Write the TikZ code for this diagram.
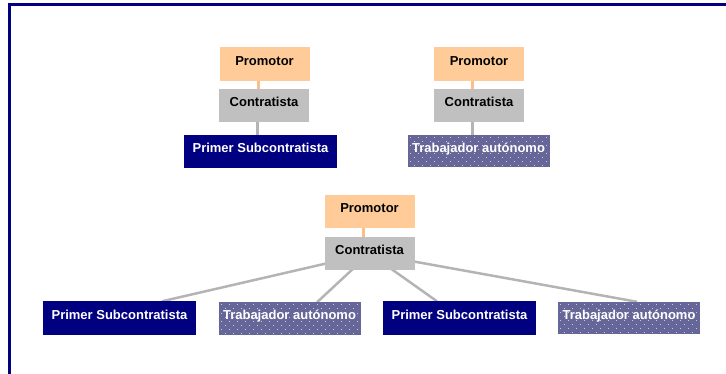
\documentclass[tikz,border=0pt]{standalone}
\usepackage{fontspec}
\setmainfont{Liberation Sans}
\usetikzlibrary{calc,backgrounds}
\definecolor{framec}{HTML}{000080}
\definecolor{promc}{HTML}{FFCC99}
\definecolor{promline}{HTML}{F8BE8C}
\definecolor{contc}{HTML}{C0C0C0}
\definecolor{linec}{HTML}{B4B4B4}
\definecolor{subc}{HTML}{000080}
\definecolor{trabc}{HTML}{666699}
\definecolor{dotc}{HTML}{C8C8E4}
\tikzset{
  box/.style={draw=none, inner sep=0pt, text height=9.5pt, text depth=7pt,
    font=\fontsize{13}{15}\selectfont\bfseries},
  prombox/.style={box, fill=promc, text=black, minimum width=90pt, minimum height=34pt},
  contbox/.style={box, fill=contc, text=black, minimum width=90pt, minimum height=33pt},
  subbox/.style={box, fill=subc, text=white, minimum width=153pt, minimum height=33pt},
  trabbox/.style={box, fill=trabc, text=white, minimum width=142pt, minimum height=32pt,
    path picture={
      \foreach \i in {0,...,18}{
        \foreach \j in {0,...,8}{
          \fill[dotc] ($(path picture bounding box.north west)+({\i*8+2+mod(\j,2)*4},{\j*4+2})$) rectangle ++(1,1);
        }
      }
    }},
  plink/.style={draw=promline, line width=3pt},
  glink/.style={draw=linec, line width=3pt},
  blink/.style={draw=linec, line width=2.5pt},
}
\begin{document}
\begin{tikzpicture}[x=1pt,y=-1pt]
\clip (0,0) rectangle (726,374);
\draw[framec, line width=3pt] (9.5,4.5) rectangle (800,500);

% first group
\node[prombox] (p1) at (264.5,64) {Promotor};
\node[contbox] (c1) at (264,105.5) {Contratista};
\node[subbox] (s1) at (260.5,151.5) {Primer Subcontratista};
% second group
\node[prombox] (p2) at (479,64) {Promotor};
\node[contbox] (c2) at (479,105.5) {Contratista};
\node[trabbox] (t1) at (478.5,151.5) {Trabajador autónomo};
% third group
\node[prombox, minimum height=33pt] (p3) at (369.5,211.5) {Promotor};
\node[contbox] (c3) at (369.5,253.5) {Contratista};
\node[subbox] (s3) at (119.5,318) {Primer Subcontratista};
\node[trabbox] (t3) at (289.5,318.5) {Trabajador autónomo};
\node[subbox] (s4) at (459.5,318) {Primer Subcontratista};
\node[trabbox] (t4) at (629,318) {Trabajador autónomo};

\begin{scope}[on background layer]
  \draw[plink] ([xshift=-6.5pt]p1.center) -- ([xshift=-6.5pt]p1.center |- c1.center);
  \draw[glink] ([xshift=-6.5pt]c1.center) -- ([xshift=-6.5pt]c1.center |- s1.center);
  \draw[plink] ([xshift=-7pt]p2.center) -- ([xshift=-7pt]p2.center |- c2.center);
  \draw[glink] ([xshift=-7pt]c2.center) -- ([xshift=-7pt]c2.center |- t1.center);
  \draw[plink] ([xshift=-6.5pt]p3.center) -- ([xshift=-6.5pt]p3.center |- c3.center);
  \draw[blink] (c3.center) -- ([xshift=42.5pt]s3.north);
  \draw[blink] (c3.center) -- ([xshift=27.5pt]t3.north);
  \draw[blink] (c3.center) -- ([xshift=-22.5pt]s4.north);
  \draw[blink] (c3.center) -- ([xshift=8pt]t4.north);
\end{scope}
\end{tikzpicture}
\end{document}
